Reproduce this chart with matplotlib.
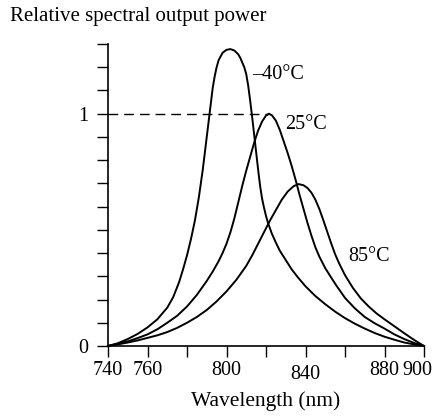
import matplotlib
matplotlib.use("Agg")
import matplotlib.pyplot as plt
import matplotlib.transforms as mtransforms
import numpy as np

plt.rcParams['font.family'] = ['Liberation Serif', 'DejaVu Serif']
plt.rcParams['font.size'] = 14.5

# spectra (wavelength in nm, relative power)
wl_m40 = [740, 745, 750, 755, 760, 765, 770, 773, 776, 778, 780, 782, 784, 786, 788,
          790, 791, 792, 793, 794, 795, 796, 798, 800, 802, 804, 806, 807, 808, 809,
          810, 811, 812, 813, 814, 815, 816, 817, 818, 819, 820, 821, 823, 825, 827,
          830, 833, 836, 840, 845, 850, 855, 860, 865, 870, 875, 880, 885, 890, 895, 900]
p_m40 = [0.0, 0.012, 0.03, 0.052, 0.08, 0.115, 0.165, 0.21, 0.275, 0.33, 0.39, 0.46, 0.54, 0.64, 0.76,
         0.90, 0.97, 1.04, 1.11, 1.16, 1.20, 1.23, 1.262, 1.275, 1.278, 1.272, 1.255, 1.24, 1.22, 1.20,
         1.17, 1.12, 1.055, 0.985, 0.91, 0.835, 0.76, 0.69, 0.635, 0.595, 0.56, 0.53, 0.483, 0.445, 0.41,
         0.37, 0.33, 0.297, 0.257, 0.215, 0.18, 0.148, 0.12, 0.096, 0.075, 0.056, 0.04, 0.027, 0.015, 0.007, 0.0]

wl_25 = [740, 745, 750, 755, 760, 765, 770, 775, 780, 785, 790, 793, 796, 798, 800,
         802, 804, 806, 808, 810, 812, 814, 816, 818, 820, 821.5, 823, 825, 827, 829,
         831, 833, 835, 837, 839, 841, 843, 845, 847, 850, 855, 860, 865, 870, 875,
         880, 885, 890, 895, 900]
p_25 = [0.0, 0.009, 0.02, 0.034, 0.05, 0.072, 0.1, 0.13, 0.17, 0.22, 0.28, 0.32, 0.365, 0.40, 0.44,
        0.49, 0.55, 0.62, 0.69, 0.755, 0.815, 0.875, 0.927, 0.966, 0.992, 1.0, 0.993, 0.97, 0.93, 0.88,
        0.83, 0.775, 0.715, 0.65, 0.59, 0.53, 0.475, 0.425, 0.385, 0.335, 0.268, 0.207, 0.162, 0.125, 0.098,
        0.075, 0.05, 0.03, 0.013, 0.0]

wl_85 = [740, 745, 750, 755, 760, 765, 770, 775, 780, 785, 790, 795, 800, 805, 810,
         813, 816, 819, 822, 825, 828, 831, 834, 836.5, 839, 841, 843, 845, 847, 849,
         851, 853, 855, 857, 860, 864, 868, 872, 876, 880, 885, 890, 895, 900]
p_85 = [0.0, 0.007, 0.015, 0.024, 0.035, 0.046, 0.06, 0.078, 0.1, 0.125, 0.155, 0.192, 0.235, 0.285, 0.345,
        0.39, 0.44, 0.49, 0.54, 0.585, 0.63, 0.665, 0.688, 0.697, 0.692, 0.68, 0.66, 0.63, 0.59, 0.542,
        0.492, 0.442, 0.395, 0.356, 0.305, 0.25, 0.205, 0.17, 0.14, 0.115, 0.085, 0.055, 0.026, 0.0]

curves = [(wl_m40, p_m40, '\u201340\u00b0C', (813, 1.17)),
          (wl_25, p_25, '25\u00b0C', (829.5, 0.955)),
          (wl_85, p_85, '85\u00b0C', (861.5, 0.385))]

x_ticks = [740, 760, 780, 800, 820, 840, 860, 880, 900]
x_labels = ['740', '760', '', '800', '', '840', '', '880', '900']
y_ticks = [round(0.1 * i, 1) for i in range(14)]
y_labels = ['0' if v == 0 else ('1' if v == 1 else '') for v in y_ticks]

fig = plt.figure(figsize=(4.4, 4.16), dpi=100)
ax = fig.add_axes([108 / 440, 1 - 346 / 416, 316 / 440, 302 / 416])

for wl, p, name, pos in curves:
    ax.plot(wl, p, color='black', lw=1.4, clip_on=False, solid_joinstyle='round')
    ax.text(pos[0], pos[1], name, ha='left', va='center')

# reference line at the 25 C peak
i_pk = int(np.argmax(p_25))
ax.plot([740, wl_25[i_pk]], [p_25[i_pk], p_25[i_pk]], color='black', lw=1.0,
        dashes=(7, 4.3))

ax.set_xlim(740, 900)
ax.set_ylim(0, 1.3)
ax.spines['top'].set_visible(False)
ax.spines['right'].set_visible(False)
ax.spines['left'].set_linewidth(1.2)
ax.spines['bottom'].set_linewidth(1.2)
ax.set_xticks(x_ticks)
ax.set_xticklabels(x_labels)
ax.set_yticks(y_ticks)
ax.set_yticklabels(y_labels)
ax.tick_params(axis='both', direction='out', length=8, width=1.0)
ax.tick_params(axis='x', pad=3)
ax.tick_params(axis='y', pad=6)

# small nudges seen in the original labels
for lbl in ax.get_xticklabels():
    if lbl.get_text() == '840':
        lbl.set_transform(lbl.get_transform() + mtransforms.ScaledTranslation(0, -3 / 72, fig.dpi_scale_trans))
    if lbl.get_text() == '900':
        lbl.set_transform(lbl.get_transform() + mtransforms.ScaledTranslation(-5 / 72, 0, fig.dpi_scale_trans))

ax.set_xlabel('Wavelength (nm)', labelpad=5, fontsize=15.5)
fig.text(10 / 440, 1 - 16 / 416, 'Relative spectral output power', ha='left', va='center',
         fontsize=15)

fig.savefig('out.png', dpi=100)
